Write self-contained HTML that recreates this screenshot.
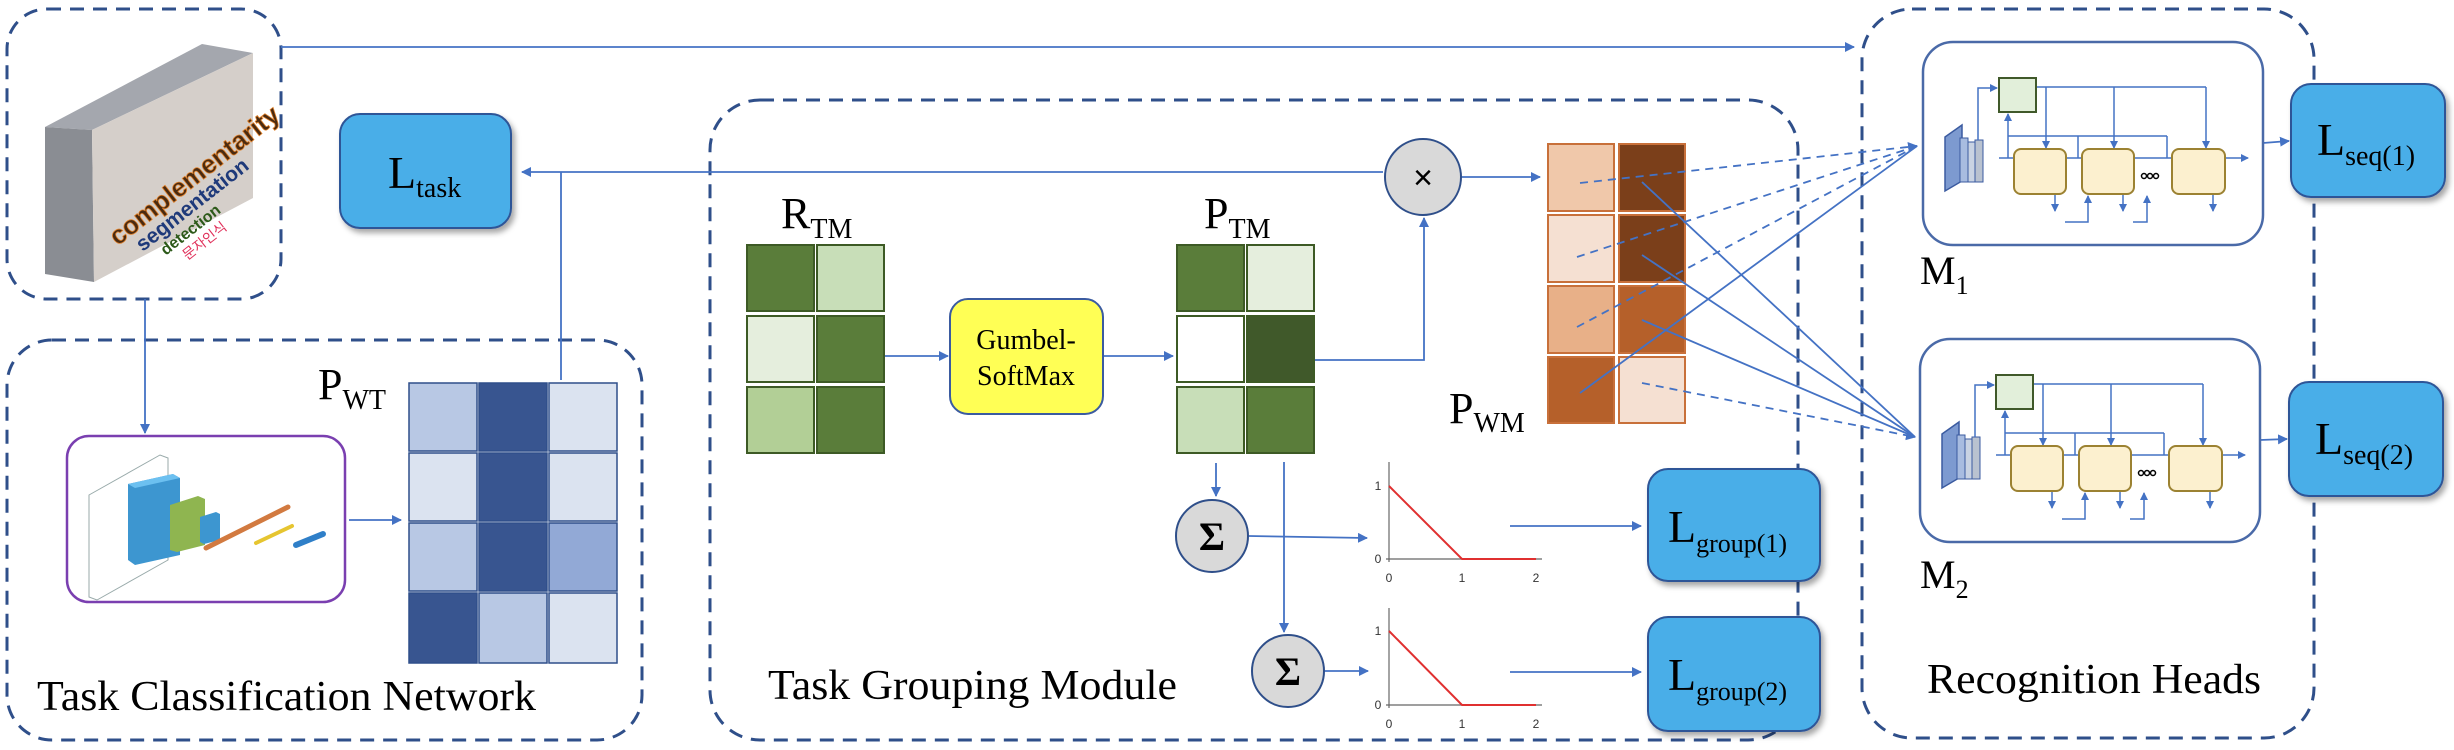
<!DOCTYPE html>
<html><head><meta charset="utf-8"><style>
html,body{margin:0;padding:0;background:#fff;}
svg{display:block;}
svg text.s{font-family:"Liberation Serif","DejaVu Serif",serif !important;}
</style></head><body>
<svg width="2454" height="750" viewBox="0 0 2454 750" xmlns="http://www.w3.org/2000/svg" font-family="Liberation Serif, serif">
<defs>
<marker id="ah" markerWidth="10" markerHeight="10" refX="9" refY="5" orient="auto" markerUnits="userSpaceOnUse"><path d="M0,0 L10,5 L0,10 z" fill="#4472c4"/></marker>
<marker id="ahs" markerWidth="8" markerHeight="8" refX="7" refY="4" orient="auto" markerUnits="userSpaceOnUse"><path d="M0,0 L8,4 L0,8 z" fill="#4472c4"/></marker>
<filter id="sh" x="-10%" y="-10%" width="130%" height="130%"><feDropShadow dx="3" dy="4" stdDeviation="3" flood-color="#000" flood-opacity="0.35"/></filter>
<g id="head">
 <rect x="1923" y="42" width="340" height="203" rx="30" fill="#fff" stroke="#4a6aa8" stroke-width="2.5"/>
 <polygon points="1945,137 1962,125 1962,181 1945,191" fill="#7d9ad0" stroke="#3b5ba0" stroke-width="1.5"/>
 <rect x="1960" y="138" width="8" height="44" fill="#a8bce0" stroke="#3b5ba0"/>
 <rect x="1968" y="142" width="7" height="40" fill="#c9d3e3" stroke="#3b5ba0"/>
 <rect x="1975" y="140" width="8" height="42" fill="#b9c2d0" stroke="#3b5ba0"/>
 <g fill="none" stroke="#4472c4" stroke-width="1.5">
  <polyline points="1978,140 1978,88 1997,88" marker-end="url(#ahs)"/>
  <line x1="1999" y1="158" x2="2248" y2="158" marker-end="url(#ahs)"/>
  <line x1="2036" y1="87" x2="2206" y2="87"/>
  <line x1="2046" y1="87" x2="2046" y2="148" marker-end="url(#ahs)"/>
  <line x1="2114" y1="87" x2="2114" y2="148" marker-end="url(#ahs)"/>
  <line x1="2206" y1="87" x2="2206" y2="148" marker-end="url(#ahs)"/>
  <line x1="2008" y1="136" x2="2167" y2="136"/>
  <line x1="2008" y1="158" x2="2008" y2="114" marker-end="url(#ahs)"/>
  <line x1="2078" y1="136" x2="2078" y2="158"/>
  <line x1="2167" y1="136" x2="2167" y2="158"/>
  <line x1="2055" y1="194" x2="2055" y2="211" marker-end="url(#ahs)"/>
  <line x1="2123" y1="194" x2="2123" y2="211" marker-end="url(#ahs)"/>
  <line x1="2213" y1="194" x2="2213" y2="211" marker-end="url(#ahs)"/>
  <polyline points="2065,222 2088,222 2088,196" marker-end="url(#ahs)"/>
  <polyline points="2133,222 2147,222 2147,196" marker-end="url(#ahs)"/>
 </g>
 <rect x="1999" y="78" width="37" height="34" fill="#e2efda" stroke="#40592a" stroke-width="2"/>
 <rect x="2014" y="149" width="52" height="45" rx="7" fill="#fcf0cf" stroke="#9c8232" stroke-width="2"/>
 <rect x="2082" y="149" width="52" height="45" rx="7" fill="#fcf0cf" stroke="#9c8232" stroke-width="2"/>
 <rect x="2172" y="149" width="53" height="45" rx="7" fill="#fcf0cf" stroke="#9c8232" stroke-width="2"/>
 <g fill="none" stroke="#000" stroke-width="1.5"><circle cx="2144" cy="176" r="2.5"/><circle cx="2150" cy="176" r="2.5"/><circle cx="2156" cy="176" r="2.5"/></g>
</g>
</defs>

<!-- dashed containers -->
<g fill="none" stroke="#2f4f8a" stroke-width="3" stroke-dasharray="14 9">
 <rect x="7" y="9" width="274" height="290" rx="40"/>
 <rect x="7" y="340" width="635" height="400" rx="45"/>
 <rect x="710" y="100" width="1088" height="640" rx="50"/>
 <rect x="1862" y="9" width="452" height="729" rx="50"/>
</g>

<!-- brick -->
<polygon points="45,127 202,44 253,53 92,130" fill="#a4a7ae"/>
<polygon points="45,127 92,130 94,282 45,274" fill="#8a8d93"/>
<polygon points="92,130 253,53 253,198 94,282" fill="#d5cfca"/>
<g transform="rotate(-38 170 180)">
 <text x="88" y="200" font-family="Liberation Sans, sans-serif" font-size="26" fill="#4a2a10" stroke="#e0802a" stroke-width="0.8" font-weight="bold">complementarity</text>
 <text x="104" y="220" font-family="Liberation Sans, sans-serif" font-size="21" fill="#1f3a7a" font-weight="bold">segmentation</text>
 <text x="120" y="237" font-family="Liberation Sans, sans-serif" font-size="16" fill="#2d5a1a" font-weight="bold">detection</text>
 <text x="134" y="254" font-family="Liberation Sans, Noto Sans CJK KR, sans-serif" font-size="14" fill="#e0305a">문자인식</text>
</g>

<!-- connectors -->
<g fill="none" stroke="#4472c4" stroke-width="1.8">
 <line x1="281" y1="47" x2="1854" y2="47" marker-end="url(#ah)"/>
 <line x1="1383" y1="172" x2="522" y2="172" marker-end="url(#ah)"/>
 <polyline points="561,380 561,172"/>
 <line x1="145" y1="299" x2="145" y2="433" marker-end="url(#ah)"/>
 <line x1="349" y1="520" x2="401" y2="520" marker-end="url(#ah)"/>
 <line x1="884" y1="356" x2="948" y2="356" marker-end="url(#ah)"/>
 <line x1="1103" y1="356" x2="1173" y2="356" marker-end="url(#ah)"/>
 <polyline points="1314,360 1424,360 1424,218" marker-end="url(#ah)"/>
 <line x1="1461" y1="177" x2="1540" y2="177" marker-end="url(#ah)"/>
 <line x1="1216" y1="463" x2="1216" y2="496" marker-end="url(#ah)"/>
 <line x1="1284" y1="462" x2="1284" y2="632" marker-end="url(#ah)"/>
 <line x1="1249" y1="536" x2="1367" y2="538" marker-end="url(#ah)"/>
 <line x1="1324" y1="671" x2="1368" y2="671" marker-end="url(#ah)"/>
 <line x1="1510" y1="526" x2="1641" y2="526" marker-end="url(#ah)"/>
 <line x1="1510" y1="672" x2="1641" y2="672" marker-end="url(#ah)"/>
 <line x1="2263" y1="143" x2="2289" y2="141" marker-end="url(#ah)"/>
 <line x1="2260" y1="440" x2="2287" y2="439" marker-end="url(#ah)"/>
</g>

<!-- Ltask -->
<rect x="340" y="114" width="171" height="114" rx="20" fill="#4aaee8" stroke="#2f5597" stroke-width="2" filter="url(#sh)"/>
<text class="s" x="388" y="188" font-size="46">L<tspan font-size="28" dy="9">task</tspan></text>

<!-- purple CNN box -->
<rect x="67" y="436" width="278" height="166" rx="22" fill="#fff" stroke="#7a3fb0" stroke-width="2.5"/>
<polygon points="89,495 160,455 168,458 168,560 97,600 89,597" fill="#fff" stroke="#9aa" stroke-width="1"/>
<polygon points="128,484 173,474 180,478 180,555 135,565 128,560" fill="#3d96d0"/>
<polygon points="128,484 173,474 180,478 135,488" fill="#6cc0f0"/>
<polygon points="170,505 198,496 205,499 205,545 177,552 170,550" fill="#8fb550"/>
<polygon points="200,517 216,512 220,514 220,540 204,544 200,542" fill="#3d96d0"/>
<line x1="206" y1="548" x2="288" y2="507" stroke="#d27a40" stroke-width="5" stroke-linecap="round"/>
<line x1="256" y1="543" x2="292" y2="526" stroke="#e6c530" stroke-width="4" stroke-linecap="round"/>
<line x1="296" y1="545" x2="323" y2="534" stroke="#2f7fc8" stroke-width="6" stroke-linecap="round"/>

<!-- PWT grid -->
<g stroke="#2f4f8a" stroke-width="1.5">
 <rect x="409" y="383" width="68" height="68" fill="#b8c8e4"/><rect x="479" y="383" width="68" height="68" fill="#385590"/><rect x="549" y="383" width="68" height="68" fill="#dbe3f0"/>
 <rect x="409" y="453" width="68" height="68" fill="#dbe3f0"/><rect x="479" y="453" width="68" height="68" fill="#385590"/><rect x="549" y="453" width="68" height="68" fill="#dbe3f0"/>
 <rect x="409" y="523" width="68" height="68" fill="#b8c8e4"/><rect x="479" y="523" width="68" height="68" fill="#385590"/><rect x="549" y="523" width="68" height="68" fill="#92a9d6"/>
 <rect x="409" y="593" width="68" height="70" fill="#385590"/><rect x="479" y="593" width="68" height="70" fill="#b8c8e4"/><rect x="549" y="593" width="68" height="70" fill="#dbe3f0"/>
</g>
<text class="s" x="318" y="399" font-size="44">P<tspan font-size="28" dy="10">WT</tspan></text>
<text class="s" x="37" y="710" font-size="42" textLength="499" lengthAdjust="spacingAndGlyphs">Task Classification Network</text>

<!-- RTM -->
<text class="s" x="781" y="228" font-size="44">R<tspan font-size="28" dy="10">TM</tspan></text>
<g stroke="#3d5a25" stroke-width="2">
 <rect x="747" y="245" width="67" height="66" fill="#5a7d3a"/><rect x="817" y="245" width="67" height="66" fill="#c8deb8"/>
 <rect x="747" y="316" width="67" height="66" fill="#e5eedd"/><rect x="817" y="316" width="67" height="66" fill="#5a7d3a"/>
 <rect x="747" y="387" width="67" height="66" fill="#b2cf96"/><rect x="817" y="387" width="67" height="66" fill="#5a7d3a"/>
</g>
<!-- Gumbel -->
<rect x="950" y="299" width="153" height="115" rx="18" fill="#ffff55" stroke="#3b5ba0" stroke-width="2"/>
<text class="s" x="1026" y="349" font-size="28" text-anchor="middle">Gumbel-</text>
<text class="s" x="1026" y="385" font-size="28" text-anchor="middle">SoftMax</text>
<!-- PTM -->
<text class="s" x="1204" y="228" font-size="44">P<tspan font-size="28" dy="10">TM</tspan></text>
<g stroke="#3d5a25" stroke-width="2">
 <rect x="1177" y="245" width="67" height="66" fill="#5a7d3a"/><rect x="1247" y="245" width="67" height="66" fill="#e5eedd"/>
 <rect x="1177" y="316" width="67" height="66" fill="#ffffff"/><rect x="1247" y="316" width="67" height="66" fill="#40592a"/>
 <rect x="1177" y="387" width="67" height="66" fill="#c8deb8"/><rect x="1247" y="387" width="67" height="66" fill="#5a7d3a"/>
</g>

<!-- circles -->
<g fill="#d9d9d9" stroke="#2f4f8a" stroke-width="2">
 <circle cx="1423" cy="177" r="38"/>
 <circle cx="1212" cy="536" r="36"/>
 <circle cx="1288" cy="671" r="36"/>
</g>
<text x="1423" y="189" font-size="34" text-anchor="middle" font-family="Liberation Sans, sans-serif">×</text>
<text class="s" x="1212" y="550" font-size="40" font-weight="bold" text-anchor="middle">Σ</text>
<text class="s" x="1288" y="685" font-size="40" font-weight="bold" text-anchor="middle">Σ</text>

<!-- charts -->
<g font-family="Liberation Sans, sans-serif" font-size="12" fill="#333">
 <g stroke-width="1.2">
  <line x1="1389" y1="462" x2="1389" y2="562" stroke="#666"/>
  <line x1="1386" y1="559" x2="1542" y2="559" stroke="#666"/>
  <polyline points="1389,486 1462,559 1536,559" fill="none" stroke="#e03030" stroke-width="2"/>
  <line x1="1389" y1="608" x2="1389" y2="708" stroke="#666"/>
  <line x1="1386" y1="705" x2="1542" y2="705" stroke="#666"/>
  <polyline points="1389,631 1462,705 1536,705" fill="none" stroke="#e03030" stroke-width="2"/>
 </g>
 <text x="1378" y="490" text-anchor="middle">1</text><text x="1378" y="563" text-anchor="middle">0</text>
 <text x="1389" y="582" text-anchor="middle">0</text><text x="1462" y="582" text-anchor="middle">1</text><text x="1536" y="582" text-anchor="middle">2</text>
 <text x="1378" y="635" text-anchor="middle">1</text><text x="1378" y="709" text-anchor="middle">0</text>
 <text x="1389" y="728" text-anchor="middle">0</text><text x="1462" y="728" text-anchor="middle">1</text><text x="1536" y="728" text-anchor="middle">2</text>
</g>

<!-- PWM -->
<g stroke="#c8703a" stroke-width="2">
 <rect x="1548" y="144" width="66" height="67" fill="#f0c8aa"/><rect x="1619" y="144" width="66" height="67" fill="#7b3f1a"/>
 <rect x="1548" y="215" width="66" height="67" fill="#f5e0d2"/><rect x="1619" y="215" width="66" height="67" fill="#7b3f1a"/>
 <rect x="1548" y="286" width="66" height="67" fill="#e8b088"/><rect x="1619" y="286" width="66" height="67" fill="#b5602a"/>
 <rect x="1548" y="357" width="66" height="66" fill="#b5602a"/><rect x="1619" y="357" width="66" height="66" fill="#f5e0d2"/>
</g>
<text class="s" x="1449" y="423" font-size="44">P<tspan font-size="28" dy="9">WM</tspan></text>

<!-- PWM to heads -->
<g fill="none" stroke="#4472c4" stroke-width="1.8">
 <g stroke-dasharray="8 6">
  <line x1="1580" y1="183" x2="1917" y2="146" marker-end="url(#ah)"/>
  <line x1="1577" y1="257" x2="1917" y2="146"/>
  <line x1="1577" y1="327" x2="1917" y2="146"/>
  <line x1="1642" y1="383" x2="1915" y2="437" marker-end="url(#ah)"/>
 </g>
 <line x1="1580" y1="393" x2="1917" y2="146"/>
 <line x1="1642" y1="182" x2="1915" y2="437"/>
 <line x1="1642" y1="255" x2="1915" y2="437"/>
 <line x1="1642" y1="320" x2="1915" y2="437"/>
</g>

<!-- Lgroup boxes -->
<rect x="1648" y="469" width="172" height="112" rx="20" fill="#4aaee8" stroke="#2f5597" stroke-width="2" filter="url(#sh)"/>
<text class="s" x="1668" y="542" font-size="46">L<tspan font-size="26" dy="10">group(1)</tspan></text>
<rect x="1648" y="617" width="172" height="114" rx="20" fill="#4aaee8" stroke="#2f5597" stroke-width="2" filter="url(#sh)"/>
<text class="s" x="1668" y="690" font-size="46">L<tspan font-size="26" dy="10">group(2)</tspan></text>
<text class="s" x="768" y="699" font-size="42" textLength="409" lengthAdjust="spacingAndGlyphs">Task Grouping Module</text>

<!-- heads -->
<use href="#head"/>
<use href="#head" transform="translate(-3 297)"/>
<text class="s" x="1920" y="284" font-size="40">M<tspan font-size="26" dy="10">1</tspan></text>
<text class="s" x="1920" y="588" font-size="40">M<tspan font-size="26" dy="10">2</tspan></text>
<text class="s" x="1927" y="693" font-size="42" textLength="334" lengthAdjust="spacingAndGlyphs">Recognition Heads</text>

<rect x="2291" y="84" width="154" height="113" rx="20" fill="#4aaee8" stroke="#2f5597" stroke-width="2" filter="url(#sh)"/>
<text class="s" x="2317" y="155" font-size="46">L<tspan font-size="28" dy="10">seq(1)</tspan></text>
<rect x="2289" y="382" width="154" height="114" rx="20" fill="#4aaee8" stroke="#2f5597" stroke-width="2" filter="url(#sh)"/>
<text class="s" x="2315" y="454" font-size="46">L<tspan font-size="28" dy="10">seq(2)</tspan></text>
</svg>
</body></html>
